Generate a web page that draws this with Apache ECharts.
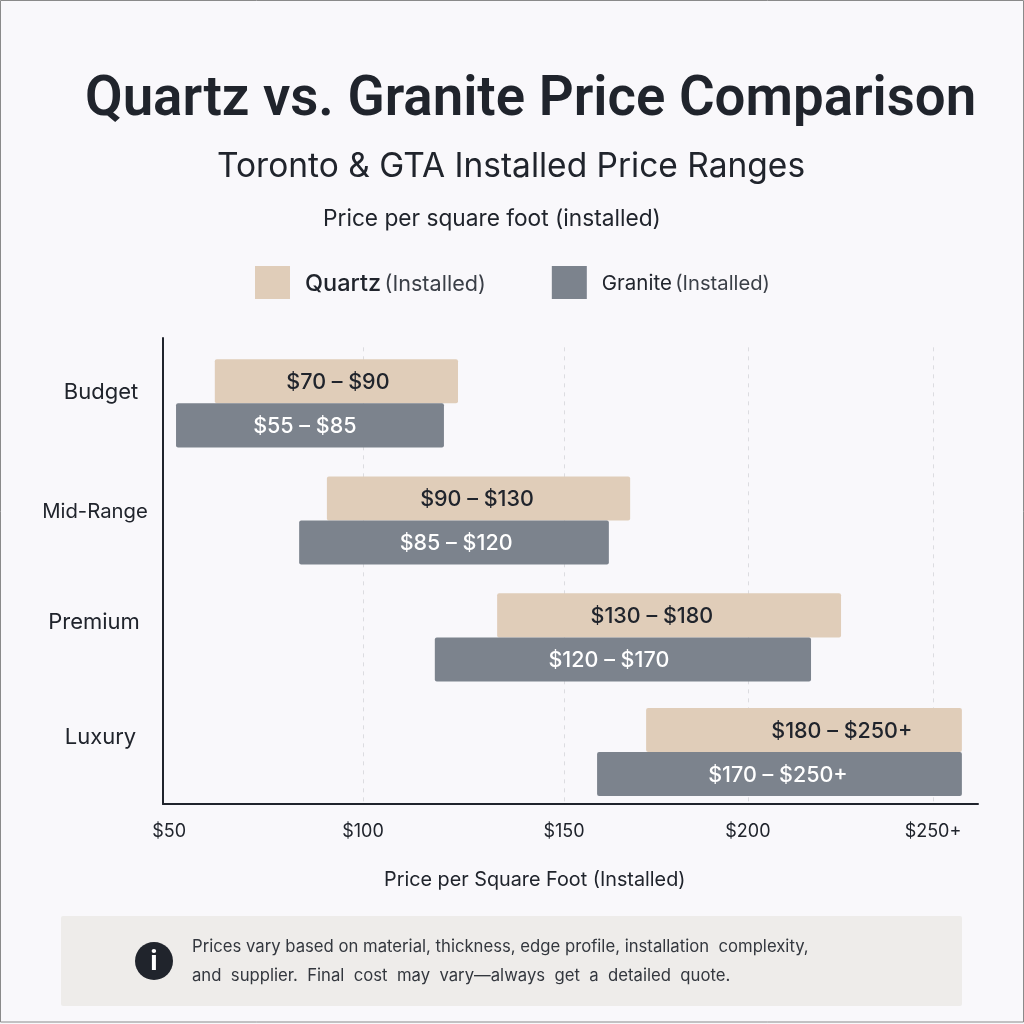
<!DOCTYPE html>
<html><head><meta charset="utf-8">
<style>html,body{margin:0;padding:0;background:#f9f8fb}#c{width:1024px;height:1024px}</style>
<script src="https://cdn.jsdelivr.net/npm/echarts@6/dist/echarts.min.js"></script>
</head><body><div id="c"></div>
<script>
// Data: bar extents as read against the chart's horizontal axis
var categories = ['Budget', 'Mid-Range', 'Premium', 'Luxury'];
var categoryLabelRows = [-0.03, 0.99, 1.945, 2.93];
var barRows = [0.061, 1.066, 2.07, 3.054];
var quartzStart = [61, 90.5, 135.3, 174.5];
var quartzEnd = [125, 170.3, 225.8, 257.6];
var graniteStart = [50.8, 83.2, 118.9, 161.6];
var graniteEnd = [121.3, 164.7, 217.9, 257.6];
var quartzLabels = ['$70 – $90', '$90 – $130', '$130 – $180', '$180 – $250+'];
var graniteLabels = ['$55 – $85', '$85 – $120', '$120 – $170', '$170 – $250+'];
var quartzLabelAt = [93.4, 130, 176, 226];
var graniteLabelAt = [84.7, 124.5, 164.7, 209.2];
var tickValues = [49, 100, 152.9, 201.3, 250];
var tickLabels = ['$50', '$100', '$150', '$200', '$250+'];
var gridValues = [100, 152.9, 201.3, 250];

var FONT = 'Inter';
var INK = '#20242c';
var QUARTZ = '#e0cdb9';
var GRANITE = '#7c838d';

function rows(starts, ends, labels, at) {
  return categories.map(function (c, i) { return [starts[i], ends[i], barRows[i], labels[i], at[i]]; });
}
function barRenderer(dir, fill, textFill) {
  return function (params, api) {
    var a = api.coord([api.value(0), api.value(2)]);
    var b = api.coord([api.value(1), api.value(2)]);
    var h = api.size([0, 1])[1] * 0.378;
    var y = dir < 0 ? a[1] - h : a[1];
    var lx = api.coord([api.value(4), api.value(2)])[0];
    return {
      type: 'group',
      children: [
        { type: 'rect', shape: { x: a[0], y: y, width: b[0] - a[0], height: h, r: 2 }, style: { fill: fill } },
        { type: 'text', x: lx, y: y + h / 2 + 1.5, style: {
            text: params.seriesIndex === 1 ? quartzLabels[params.dataIndex] : graniteLabels[params.dataIndex],
            fill: textFill, font: '500 21.5px ' + FONT, textAlign: 'center', textVerticalAlign: 'middle' } }
      ]
    };
  };
}
var chart = echarts.init(document.getElementById('c'), null, { renderer: 'canvas' });
chart.setOption({
  animation: false,
  backgroundColor: '#f9f8fb',
  title: [
    { text: 'Quartz vs. Granite Price Comparison', left: 80, top: 69, textStyle: { fontFamily: 'Roboto', fontWeight: 600, fontSize: 54.6, color: INK } },
    { text: 'Toronto & GTA Installed Price Ranges', left: 212, top: 145, textStyle: { fontFamily: FONT, fontWeight: 400, fontSize: 33.5, color: INK } },
    { text: 'Price per square foot (installed)', left: 318, top: 203, textStyle: { fontFamily: FONT, fontWeight: 400, fontSize: 22.7, color: INK } },
    { text: 'Price per Square Foot (Installed)', left: 379, top: 865, textStyle: { fontFamily: FONT, fontWeight: 400, fontSize: 19.8, color: INK } }
  ],
  legend: {
    left: 250, top: 261, itemWidth: 35, itemHeight: 33, itemGap: 66, selectedMode: false,
    data: [
      { name: 'Quartz (Installed)', icon: 'rect', itemStyle: { color: QUARTZ } },
      { name: 'Granite (Installed)', icon: 'rect', itemStyle: { color: GRANITE } }
    ],
    formatter: function (n) {
      var p = n.split(' ');
      return p[0] === 'Quartz' ? '{a|' + p[0] + '} {b|' + p[1] + '}' : '{c|' + p[0] + '} {d|' + p[1] + '}';
    },
    textStyle: {
      fontFamily: FONT, color: INK, padding: [3, 0, 0, 10],
      rich: {
        a: { fontFamily: FONT, fontWeight: 500, fontSize: 23.5, color: INK },
        b: { fontFamily: FONT, fontWeight: 400, fontSize: 21.6, color: '#3a3f47' },
        c: { fontFamily: FONT, fontWeight: 400, fontSize: 20.5, color: INK },
        d: { fontFamily: FONT, fontWeight: 400, fontSize: 20.2, color: '#3a3f47' }
      }
    }
  },
  grid: { left: 163, right: 46, top: 338, bottom: 220 },
  xAxis: {
    type: 'value', min: 47.37, max: 261.84,
    axisLine: { show: true, onZero: false, lineStyle: { color: INK, width: 2 } },
    axisTick: { show: false, customValues: tickValues },
    splitLine: { show: false },
    axisLabel: {
      customValues: tickValues, margin: 19, color: INK, fontFamily: FONT, fontSize: 18,
      formatter: function (v) { return tickLabels[tickValues.indexOf(v)]; }
    }
  },
  yAxis: {
    type: 'value', inverse: true, min: -0.5, max: 3.5,
    axisLine: { show: true, onZero: false, lineStyle: { color: INK, width: 2 } },
    axisTick: { show: false, customValues: categoryLabelRows },
    splitLine: { show: false },
    axisLabel: {
      customValues: categoryLabelRows, margin: 66, align: 'center', color: INK, fontFamily: FONT, fontSize: 22,
      formatter: function (v) {
        var key = ['u', 'm', 'p', 'l'][categoryLabelRows.indexOf(v)];
        return '{' + key + '|' + categories[categoryLabelRows.indexOf(v)] + '}';
      },
      rich: {
        u: { fontFamily: FONT, fontSize: 22, color: INK, padding: [0, 0, 0, 8] },
        m: { fontFamily: FONT, fontSize: 20.3, color: INK, padding: [0, 4, 0, 0] },
        p: { fontFamily: FONT, fontSize: 22, color: INK, padding: [0, 6, 0, 0] },
        l: { fontFamily: FONT, fontSize: 22, color: INK, padding: [0, 0, 0, 7] }
      }
    }
  },
  series: [
    {
      type: 'line', data: [], z: 1, silent: true,
      markLine: {
        z: 1, silent: true, symbol: 'none', label: { show: false }, animation: false,
        lineStyle: { type: [4, 5], color: '#dcdce0', width: 1 },
        data: gridValues.map(function (v) { return [{ coord: [v, -0.42] }, { coord: [v, 3.5] }]; })
      }
    },
    {
      name: 'Quartz (Installed)', type: 'custom', z: 3, itemStyle: { color: QUARTZ },
      encode: { x: [0, 1], y: 2 },
      renderItem: barRenderer(-1, QUARTZ, INK),
      data: rows(quartzStart, quartzEnd, quartzLabels, quartzLabelAt)
    },
    {
      name: 'Granite (Installed)', type: 'custom', z: 4, itemStyle: { color: GRANITE },
      encode: { x: [0, 1], y: 2 },
      renderItem: barRenderer(1, GRANITE, '#ffffff'),
      data: rows(graniteStart, graniteEnd, graniteLabels, graniteLabelAt)
    }
  ],
  graphic: [
    { type: 'rect', z: -1, shape: { x: 0.5, y: 0.5, width: 1023, height: 1021.5 }, style: { fill: 'transparent', stroke: '#8a8a8a', lineWidth: 1 } },
    { type: 'rect', z: 0, shape: { x: 61, y: 916, width: 901, height: 90, r: 2 }, style: { fill: '#eeecea' } },
    { type: 'circle', z: 1, shape: { cx: 154, cy: 961, r: 19 }, style: { fill: INK } },
    { type: 'text', z: 2, x: 154, y: 962, style: { text: 'i', fill: '#fff', font: '700 27px ' + FONT, textAlign: 'center', textVerticalAlign: 'middle' } },
    { type: 'text', z: 2, x: 192, y: 947, style: { text: 'Prices vary based on material, thickness, edge profile, installation  complexity,', fill: '#33373e', font: '400 16.7px ' + FONT, textVerticalAlign: 'middle' } },
    { type: 'text', z: 2, x: 192, y: 976, style: { text: 'and  supplier.  Final  cost  may  vary—always  get  a  detailed  quote.', fill: '#33373e', font: '400 16.7px ' + FONT, textVerticalAlign: 'middle' } }
  ]
});
</script></body></html>
